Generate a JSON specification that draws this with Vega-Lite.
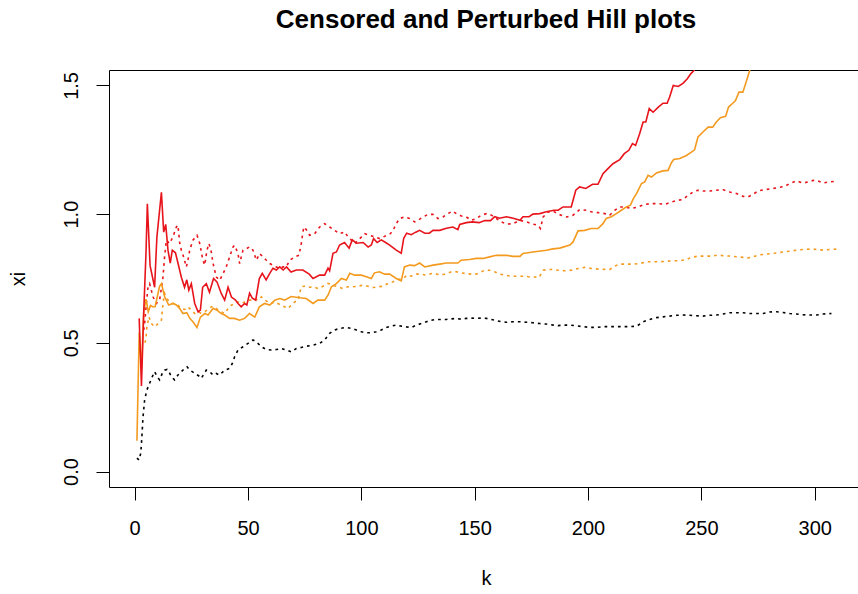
{
"$schema": "https://vega.github.io/schema/vega-lite/v6.json",
"width": 749, "height": 417,
"autosize": {"type": "none"},
"padding": {"left": 109, "top": 70, "right": 0, "bottom": 107},
"background": "white",
"title": {"text": "Censored and Perturbed Hill plots", "font": "Liberation Sans", "fontSize": 26, "fontWeight": "bold", "color": "black", "anchor": "middle", "offset": 37, "dx": 2.5, "frame": "group"},
"config": {
  "view": {"stroke": "black", "strokeWidth": 1},
  "axis": {"domain": false, "grid": false, "ticks": true, "tickSize": 13, "tickColor": "black", "tickWidth": 1, "labelFont": "Liberation Sans", "labelFontSize": 20, "labelColor": "black", "labelFlush": false, "labelOverlap": false, "titleFont": "Liberation Sans", "titleFontSize": 20, "titleFontWeight": "normal", "titleColor": "black"}
},
"datasets": {
"a": [{"k":2,"xi":0.595},{"k":3,"xi":0.332},{"k":4,"xi":0.62},{"k":5,"xi":0.85},{"k":5.6,"xi":1.04},{"k":6.8,"xi":0.8},{"k":8.8,"xi":0.716},{"k":9.8,"xi":0.91},{"k":11.8,"xi":1.085},{"k":12.8,"xi":0.93},{"k":13.7,"xi":0.96},{"k":14.7,"xi":0.86},{"k":15.7,"xi":0.81},{"k":16.6,"xi":0.86},{"k":18,"xi":0.85},{"k":19.1,"xi":0.81},{"k":20.6,"xi":0.755},{"k":22,"xi":0.716},{"k":23,"xi":0.745},{"k":23.9,"xi":0.705},{"k":25,"xi":0.73},{"k":26.5,"xi":0.653},{"k":28,"xi":0.62},{"k":29,"xi":0.627},{"k":30,"xi":0.716},{"k":31.6,"xi":0.73},{"k":33,"xi":0.697},{"k":34.8,"xi":0.75},{"k":36.3,"xi":0.737},{"k":38.2,"xi":0.692},{"k":39.7,"xi":0.666},{"k":41.2,"xi":0.716},{"k":42.7,"xi":0.678},{"k":44.5,"xi":0.666},{"k":45.6,"xi":0.653},{"k":47,"xi":0.64},{"k":48.5,"xi":0.653},{"k":49.5,"xi":0.647},{"k":50.7,"xi":0.693},{"k":51.9,"xi":0.674},{"k":53.4,"xi":0.666},{"k":55,"xi":0.75},{"k":56.3,"xi":0.77},{"k":58,"xi":0.745},{"k":59.6,"xi":0.77},{"k":61,"xi":0.79},{"k":62.5,"xi":0.783},{"k":64,"xi":0.795},{"k":65.5,"xi":0.783},{"k":67,"xi":0.795},{"k":69,"xi":0.775},{"k":71.3,"xi":0.783},{"k":74.2,"xi":0.783},{"k":77,"xi":0.767},{"k":78.7,"xi":0.75},{"k":81.6,"xi":0.763},{"k":83.8,"xi":0.763},{"k":85.3,"xi":0.79},{"k":86,"xi":0.78},{"k":87.5,"xi":0.848},{"k":89,"xi":0.853},{"k":90.4,"xi":0.88},{"k":92.6,"xi":0.89},{"k":94.6,"xi":0.868},{"k":96,"xi":0.9},{"k":97.8,"xi":0.887},{"k":100.8,"xi":0.89},{"k":103,"xi":0.872},{"k":104.4,"xi":0.88},{"k":105.4,"xi":0.905},{"k":107,"xi":0.89},{"k":108.8,"xi":0.9},{"k":110.7,"xi":0.89},{"k":112.5,"xi":0.88},{"k":115.4,"xi":0.86},{"k":117.6,"xi":0.848},{"k":118.7,"xi":0.906},{"k":120,"xi":0.926},{"k":122,"xi":0.92},{"k":124,"xi":0.93},{"k":125.7,"xi":0.937},{"k":128,"xi":0.926},{"k":130,"xi":0.926},{"k":131.6,"xi":0.937},{"k":134.6,"xi":0.937},{"k":137.5,"xi":0.945},{"k":140.4,"xi":0.95},{"k":142.6,"xi":0.94},{"k":143.4,"xi":0.96},{"k":146.3,"xi":0.967},{"k":149,"xi":0.97},{"k":152,"xi":0.967},{"k":154.4,"xi":0.975},{"k":157,"xi":0.975},{"k":158.8,"xi":0.99},{"k":161,"xi":0.984},{"k":164,"xi":0.99},{"k":167,"xi":0.984},{"k":170,"xi":0.976},{"k":171.3,"xi":0.99},{"k":174,"xi":0.99},{"k":175.7,"xi":1.0},{"k":178.7,"xi":1.002},{"k":181.6,"xi":1.009},{"k":185,"xi":1.015},{"k":186.8,"xi":1.015},{"k":189,"xi":1.028},{"k":192.6,"xi":1.028},{"k":194.6,"xi":1.093},{"k":196.3,"xi":1.106},{"k":199,"xi":1.1},{"k":202,"xi":1.116},{"k":204.4,"xi":1.116},{"k":206.6,"xi":1.157},{"k":208.8,"xi":1.177},{"k":211,"xi":1.196},{"k":214,"xi":1.212},{"k":216,"xi":1.235},{"k":218,"xi":1.248},{"k":219.6,"xi":1.274},{"k":221,"xi":1.267},{"k":222.8,"xi":1.313},{"k":224.3,"xi":1.358},{"k":225.5,"xi":1.358},{"k":227,"xi":1.41},{"k":228.7,"xi":1.396},{"k":231,"xi":1.416},{"k":233.1,"xi":1.431},{"k":234.9,"xi":1.431},{"k":236,"xi":1.455},{"k":237.6,"xi":1.5},{"k":239.8,"xi":1.496},{"k":242,"xi":1.509},{"k":243.8,"xi":1.526},{"k":245.3,"xi":1.545},{"k":246.7,"xi":1.558},{"k":248,"xi":1.575},{"k":250,"xi":1.6},{"k":260,"xi":1.75},{"k":280,"xi":2.1},{"k":309,"xi":2.8}],
"b": [{"k":1,"xi":0.12},{"k":2,"xi":0.54},{"k":3,"xi":0.4},{"k":4,"xi":0.62},{"k":5,"xi":0.67},{"k":6,"xi":0.62},{"k":7,"xi":0.645},{"k":8,"xi":0.64},{"k":9,"xi":0.64},{"k":10,"xi":0.68},{"k":11,"xi":0.72},{"k":11.8,"xi":0.73},{"k":13.2,"xi":0.68},{"k":15,"xi":0.647},{"k":17,"xi":0.653},{"k":18.4,"xi":0.647},{"k":19.8,"xi":0.634},{"k":21.3,"xi":0.614},{"k":23,"xi":0.617},{"k":24.3,"xi":0.595},{"k":25.7,"xi":0.582},{"k":27.5,"xi":0.56},{"k":29,"xi":0.6},{"k":31,"xi":0.614},{"k":32.4,"xi":0.608},{"k":34.6,"xi":0.634},{"k":36.3,"xi":0.627},{"k":38.2,"xi":0.614},{"k":39.7,"xi":0.608},{"k":41.9,"xi":0.595},{"k":44,"xi":0.595},{"k":46.3,"xi":0.588},{"k":48.5,"xi":0.595},{"k":50.7,"xi":0.614},{"k":53,"xi":0.6},{"k":55,"xi":0.64},{"k":57.3,"xi":0.653},{"k":59.6,"xi":0.647},{"k":61.8,"xi":0.666},{"k":64,"xi":0.672},{"k":66.2,"xi":0.666},{"k":69,"xi":0.68},{"k":72.8,"xi":0.675},{"k":75.7,"xi":0.672},{"k":78.7,"xi":0.653},{"k":80.8,"xi":0.666},{"k":83.8,"xi":0.666},{"k":85.3,"xi":0.685},{"k":86.8,"xi":0.718},{"k":89,"xi":0.73},{"k":91.2,"xi":0.75},{"k":93.4,"xi":0.744},{"k":94.9,"xi":0.77},{"k":97,"xi":0.763},{"k":100,"xi":0.763},{"k":102.2,"xi":0.757},{"k":104.4,"xi":0.75},{"k":105.8,"xi":0.772},{"k":108,"xi":0.776},{"k":110.3,"xi":0.767},{"k":112.5,"xi":0.767},{"k":115.4,"xi":0.75},{"k":117.6,"xi":0.741},{"k":119,"xi":0.795},{"k":121.3,"xi":0.802},{"k":123.5,"xi":0.8},{"k":125.7,"xi":0.81},{"k":128,"xi":0.795},{"k":131.6,"xi":0.802},{"k":134.6,"xi":0.806},{"k":137.5,"xi":0.81},{"k":140.4,"xi":0.81},{"k":142.6,"xi":0.81},{"k":144,"xi":0.821},{"k":147.8,"xi":0.824},{"k":150.7,"xi":0.828},{"k":153.7,"xi":0.828},{"k":156.6,"xi":0.834},{"k":159.5,"xi":0.84},{"k":164,"xi":0.84},{"k":167,"xi":0.836},{"k":170,"xi":0.836},{"k":171.3,"xi":0.847},{"k":175.7,"xi":0.853},{"k":181.6,"xi":0.86},{"k":184.5,"xi":0.865},{"k":187.5,"xi":0.868},{"k":192,"xi":0.88},{"k":193.4,"xi":0.892},{"k":195.6,"xi":0.935},{"k":198.5,"xi":0.937},{"k":201.4,"xi":0.944},{"k":204.4,"xi":0.944},{"k":206.6,"xi":0.963},{"k":208,"xi":0.983},{"k":210.3,"xi":0.99},{"k":212.5,"xi":1.002},{"k":214.7,"xi":1.015},{"k":216.9,"xi":1.028},{"k":218.7,"xi":1.035},{"k":220,"xi":1.06},{"k":221.4,"xi":1.08},{"k":223.6,"xi":1.119},{"k":225,"xi":1.125},{"k":226.5,"xi":1.151},{"k":228,"xi":1.144},{"k":230.2,"xi":1.16},{"k":233,"xi":1.168},{"k":235.3,"xi":1.17},{"k":236.8,"xi":1.2},{"k":237.8,"xi":1.212},{"k":240.5,"xi":1.216},{"k":243.4,"xi":1.228},{"k":245.6,"xi":1.241},{"k":247,"xi":1.25},{"k":248.5,"xi":1.3},{"k":250.7,"xi":1.319},{"k":253,"xi":1.338},{"k":255,"xi":1.338},{"k":256.6,"xi":1.358},{"k":258.4,"xi":1.375},{"k":260.7,"xi":1.38},{"k":262,"xi":1.416},{"k":263.6,"xi":1.429},{"k":265,"xi":1.44},{"k":266.6,"xi":1.474},{"k":268.3,"xi":1.474},{"k":270,"xi":1.52},{"k":271.3,"xi":1.558},{"k":273,"xi":1.6},{"k":285,"xi":1.9},{"k":309,"xi":2.5}],
"c": [{"k":4,"xi":0.55},{"k":4.4,"xi":0.575},{"k":5.15,"xi":0.653},{"k":5.9,"xi":0.718},{"k":6.6,"xi":0.73},{"k":8.1,"xi":0.679},{"k":9.6,"xi":0.653},{"k":11,"xi":0.666},{"k":12.5,"xi":0.756},{"k":13.2,"xi":0.834},{"k":14,"xi":0.899},{"k":15.4,"xi":0.886},{"k":16.9,"xi":0.912},{"k":18.4,"xi":0.95},{"k":19.1,"xi":0.957},{"k":19.9,"xi":0.886},{"k":20.6,"xi":0.86},{"k":21.6,"xi":0.834},{"k":22.8,"xi":0.795},{"k":23.5,"xi":0.821},{"k":24.3,"xi":0.86},{"k":25.7,"xi":0.899},{"k":27.5,"xi":0.918},{"k":28.7,"xi":0.886},{"k":30.1,"xi":0.821},{"k":30.9,"xi":0.802},{"k":31.9,"xi":0.86},{"k":32.8,"xi":0.886},{"k":33.8,"xi":0.853},{"k":34.6,"xi":0.808},{"k":35.3,"xi":0.782},{"k":36,"xi":0.756},{"k":37.5,"xi":0.743},{"k":39,"xi":0.769},{"k":40.4,"xi":0.795},{"k":41.9,"xi":0.834},{"k":43.4,"xi":0.873},{"k":44.1,"xi":0.879},{"k":45.6,"xi":0.847},{"k":46.3,"xi":0.808},{"k":47.8,"xi":0.86},{"k":49.3,"xi":0.866},{"k":50.7,"xi":0.873},{"k":52.2,"xi":0.86},{"k":53.7,"xi":0.821},{"k":55.1,"xi":0.847},{"k":56.6,"xi":0.834},{"k":58.1,"xi":0.821},{"k":59.6,"xi":0.808},{"k":61,"xi":0.802},{"k":62.5,"xi":0.795},{"k":64,"xi":0.789},{"k":65.4,"xi":0.795},{"k":66.9,"xi":0.795},{"k":68.4,"xi":0.821},{"k":70.6,"xi":0.834},{"k":72.5,"xi":0.84},{"k":73.5,"xi":0.886},{"k":74.6,"xi":0.95},{"k":75.7,"xi":0.94},{"k":77.2,"xi":0.918},{"k":79.4,"xi":0.924},{"k":81.6,"xi":0.95},{"k":83.8,"xi":0.963},{"k":86,"xi":0.95},{"k":88.2,"xi":0.937},{"k":90.4,"xi":0.924},{"k":92.7,"xi":0.931},{"k":94.1,"xi":0.911},{"k":95.6,"xi":0.899},{"k":97.1,"xi":0.886},{"k":99.3,"xi":0.905},{"k":101.5,"xi":0.924},{"k":103.7,"xi":0.918},{"k":105.9,"xi":0.911},{"k":108.1,"xi":0.905},{"k":109.6,"xi":0.911},{"k":111.3,"xi":0.918},{"k":112.8,"xi":0.924},{"k":114,"xi":0.937},{"k":115.4,"xi":0.963},{"k":116.9,"xi":0.983},{"k":119.1,"xi":0.989},{"k":121.3,"xi":0.983},{"k":123.5,"xi":0.97},{"k":125,"xi":0.976},{"k":127.2,"xi":0.989},{"k":129.4,"xi":0.999},{"k":131.6,"xi":0.999},{"k":133.8,"xi":0.983},{"k":136,"xi":0.989},{"k":138.2,"xi":1.002},{"k":140.2,"xi":1.012},{"k":141.9,"xi":1.002},{"k":144.1,"xi":0.993},{"k":146.3,"xi":0.989},{"k":148.5,"xi":0.976},{"k":150.7,"xi":0.983},{"k":152.9,"xi":0.996},{"k":155.2,"xi":1.002},{"k":157.4,"xi":0.996},{"k":159.6,"xi":0.983},{"k":161.8,"xi":0.97},{"k":164,"xi":0.961},{"k":166.9,"xi":0.963},{"k":169.9,"xi":0.976},{"k":172.8,"xi":0.97},{"k":175.7,"xi":0.961},{"k":177.9,"xi":0.957},{"k":179,"xi":0.944},{"k":180.2,"xi":0.989},{"k":182.4,"xi":1.008},{"k":184.6,"xi":1.012},{"k":186.8,"xi":1.0},{"k":190.5,"xi":0.989},{"k":193.4,"xi":0.996},{"k":196.3,"xi":1.018},{"k":199.3,"xi":1.015},{"k":201.5,"xi":1.009},{"k":204.4,"xi":1.006},{"k":207.4,"xi":1.002},{"k":209.6,"xi":0.996},{"k":211.8,"xi":1.015},{"k":214,"xi":1.028},{"k":216.2,"xi":1.028},{"k":219.1,"xi":1.022},{"k":222.1,"xi":1.028},{"k":225,"xi":1.038},{"k":228,"xi":1.041},{"k":230.9,"xi":1.041},{"k":233.8,"xi":1.038},{"k":236.8,"xi":1.047},{"k":239.7,"xi":1.054},{"k":241.9,"xi":1.057},{"k":244.1,"xi":1.073},{"k":246.3,"xi":1.086},{"k":248.5,"xi":1.093},{"k":250.7,"xi":1.09},{"k":253.7,"xi":1.09},{"k":256.6,"xi":1.093},{"k":259.6,"xi":1.095},{"k":262.5,"xi":1.086},{"k":265.5,"xi":1.08},{"k":268.4,"xi":1.069},{"k":270.6,"xi":1.067},{"k":272.8,"xi":1.077},{"k":275,"xi":1.09},{"k":278,"xi":1.095},{"k":280.9,"xi":1.099},{"k":283.8,"xi":1.103},{"k":286.8,"xi":1.108},{"k":289,"xi":1.119},{"k":291.9,"xi":1.129},{"k":294.9,"xi":1.121},{"k":297.1,"xi":1.125},{"k":299.3,"xi":1.131},{"k":301.5,"xi":1.129},{"k":303.7,"xi":1.121},{"k":305.9,"xi":1.125},{"k":309.5,"xi":1.128}],
"d": [{"k":4.5,"xi":0.5},{"k":4.9,"xi":0.511},{"k":5.4,"xi":0.562},{"k":6.3,"xi":0.601},{"k":7.4,"xi":0.575},{"k":8.8,"xi":0.562},{"k":10.3,"xi":0.575},{"k":11.8,"xi":0.588},{"k":12.5,"xi":0.653},{"k":13.2,"xi":0.692},{"k":14.7,"xi":0.666},{"k":16.2,"xi":0.653},{"k":17.6,"xi":0.653},{"k":19.1,"xi":0.646},{"k":20.6,"xi":0.633},{"k":22.1,"xi":0.63},{"k":23.5,"xi":0.64},{"k":25,"xi":0.627},{"k":26.5,"xi":0.614},{"k":28,"xi":0.621},{"k":29.4,"xi":0.614},{"k":30.9,"xi":0.621},{"k":32.4,"xi":0.63},{"k":33.8,"xi":0.64},{"k":35.3,"xi":0.64},{"k":36.8,"xi":0.627},{"k":38.2,"xi":0.621},{"k":39.7,"xi":0.614},{"k":41.2,"xi":0.633},{"k":42.6,"xi":0.646},{"k":44.1,"xi":0.653},{"k":45.6,"xi":0.659},{"k":47.1,"xi":0.653},{"k":48.5,"xi":0.659},{"k":50,"xi":0.666},{"k":51.5,"xi":0.666},{"k":53,"xi":0.672},{"k":54.4,"xi":0.666},{"k":55.9,"xi":0.679},{"k":57.4,"xi":0.666},{"k":58.8,"xi":0.659},{"k":60.3,"xi":0.653},{"k":61.8,"xi":0.659},{"k":63.2,"xi":0.653},{"k":64.7,"xi":0.646},{"k":66.2,"xi":0.64},{"k":67.6,"xi":0.633},{"k":69.1,"xi":0.646},{"k":70.6,"xi":0.659},{"k":72.1,"xi":0.666},{"k":73.5,"xi":0.718},{"k":75,"xi":0.72},{"k":76.5,"xi":0.715},{"k":78.7,"xi":0.718},{"k":80.9,"xi":0.711},{"k":83.1,"xi":0.72},{"k":85.3,"xi":0.731},{"k":87.5,"xi":0.724},{"k":89.7,"xi":0.718},{"k":91.9,"xi":0.711},{"k":94.1,"xi":0.718},{"k":96.3,"xi":0.718},{"k":98.5,"xi":0.72},{"k":100.7,"xi":0.724},{"k":102.9,"xi":0.72},{"k":105.2,"xi":0.715},{"k":107.4,"xi":0.718},{"k":109.6,"xi":0.72},{"k":111.8,"xi":0.731},{"k":114,"xi":0.737},{"k":116.2,"xi":0.746},{"k":118.4,"xi":0.75},{"k":120.2,"xi":0.763},{"k":122.1,"xi":0.759},{"k":124.3,"xi":0.767},{"k":126.5,"xi":0.767},{"k":128.7,"xi":0.763},{"k":130.9,"xi":0.769},{"k":133.1,"xi":0.767},{"k":135.3,"xi":0.763},{"k":137.5,"xi":0.769},{"k":139.7,"xi":0.776},{"k":141.9,"xi":0.776},{"k":144.1,"xi":0.772},{"k":146.3,"xi":0.769},{"k":148.5,"xi":0.767},{"k":150.7,"xi":0.767},{"k":152.9,"xi":0.776},{"k":154.4,"xi":0.782},{"k":156.6,"xi":0.782},{"k":158.8,"xi":0.776},{"k":161,"xi":0.767},{"k":163.2,"xi":0.763},{"k":165.4,"xi":0.76},{"k":167.7,"xi":0.759},{"k":169.9,"xi":0.759},{"k":172.1,"xi":0.759},{"k":174.3,"xi":0.756},{"k":176.5,"xi":0.756},{"k":178.4,"xi":0.754},{"k":180.2,"xi":0.782},{"k":182.4,"xi":0.785},{"k":184.6,"xi":0.785},{"k":186.8,"xi":0.782},{"k":189.7,"xi":0.78},{"k":192.7,"xi":0.782},{"k":195.6,"xi":0.789},{"k":198.5,"xi":0.793},{"k":201.5,"xi":0.789},{"k":205.2,"xi":0.786},{"k":209.6,"xi":0.785},{"k":211.8,"xi":0.798},{"k":214,"xi":0.806},{"k":216.9,"xi":0.806},{"k":219.9,"xi":0.806},{"k":222.8,"xi":0.808},{"k":225.7,"xi":0.815},{"k":228.7,"xi":0.815},{"k":231.6,"xi":0.815},{"k":234.6,"xi":0.817},{"k":237.5,"xi":0.819},{"k":240.5,"xi":0.819},{"k":243.4,"xi":0.824},{"k":245.6,"xi":0.832},{"k":248.5,"xi":0.837},{"k":251.5,"xi":0.837},{"k":254.4,"xi":0.837},{"k":257.4,"xi":0.841},{"k":260.3,"xi":0.838},{"k":263.2,"xi":0.837},{"k":266.2,"xi":0.834},{"k":268.4,"xi":0.832},{"k":270.6,"xi":0.83},{"k":272.8,"xi":0.834},{"k":275,"xi":0.841},{"k":278,"xi":0.844},{"k":280.9,"xi":0.847},{"k":283.8,"xi":0.85},{"k":286.8,"xi":0.854},{"k":289,"xi":0.856},{"k":291.9,"xi":0.86},{"k":294.9,"xi":0.863},{"k":297.8,"xi":0.864},{"k":300.7,"xi":0.863},{"k":303.7,"xi":0.86},{"k":306.6,"xi":0.863},{"k":309.6,"xi":0.864}],
"e": [{"k":1,"xi":0.052},{"k":1.9,"xi":0.045},{"k":2.7,"xi":0.071},{"k":3.1,"xi":0.123},{"k":3.7,"xi":0.213},{"k":4.4,"xi":0.278},{"k":5.4,"xi":0.317},{"k":6.6,"xi":0.343},{"k":7.8,"xi":0.369},{"k":8.8,"xi":0.388},{"k":9.9,"xi":0.369},{"k":11,"xi":0.356},{"k":12.2,"xi":0.382},{"k":13.2,"xi":0.394},{"k":14.3,"xi":0.397},{"k":15.1,"xi":0.388},{"k":16.2,"xi":0.369},{"k":17.6,"xi":0.356},{"k":19.1,"xi":0.375},{"k":20.6,"xi":0.388},{"k":22.1,"xi":0.401},{"k":23.1,"xi":0.407},{"k":24.3,"xi":0.394},{"k":26.5,"xi":0.382},{"k":28.7,"xi":0.369},{"k":29.4,"xi":0.362},{"k":31.6,"xi":0.394},{"k":33.1,"xi":0.388},{"k":34.6,"xi":0.375},{"k":36,"xi":0.381},{"k":37.5,"xi":0.375},{"k":39.7,"xi":0.394},{"k":41.9,"xi":0.401},{"k":43.1,"xi":0.42},{"k":44.1,"xi":0.446},{"k":45.6,"xi":0.472},{"k":47.8,"xi":0.485},{"k":50,"xi":0.498},{"k":52.2,"xi":0.511},{"k":53.7,"xi":0.504},{"k":55.9,"xi":0.485},{"k":58.1,"xi":0.474},{"k":60.3,"xi":0.472},{"k":62.5,"xi":0.474},{"k":64.7,"xi":0.478},{"k":66.9,"xi":0.472},{"k":69.1,"xi":0.465},{"k":71.3,"xi":0.478},{"k":73.5,"xi":0.482},{"k":75.7,"xi":0.487},{"k":78.7,"xi":0.491},{"k":81.6,"xi":0.498},{"k":83.8,"xi":0.511},{"k":86,"xi":0.537},{"k":88.2,"xi":0.55},{"k":90.4,"xi":0.556},{"k":93.4,"xi":0.56},{"k":95.6,"xi":0.556},{"k":97.8,"xi":0.55},{"k":100,"xi":0.543},{"k":102.2,"xi":0.539},{"k":104.4,"xi":0.539},{"k":106.6,"xi":0.543},{"k":108.8,"xi":0.55},{"k":111,"xi":0.56},{"k":113.2,"xi":0.565},{"k":115.4,"xi":0.569},{"k":117.7,"xi":0.565},{"k":119.9,"xi":0.562},{"k":122.1,"xi":0.56},{"k":124.3,"xi":0.569},{"k":126.5,"xi":0.575},{"k":128.7,"xi":0.582},{"k":130.9,"xi":0.588},{"k":133.1,"xi":0.591},{"k":135.3,"xi":0.591},{"k":137.5,"xi":0.591},{"k":139.7,"xi":0.593},{"k":141.9,"xi":0.595},{"k":144.1,"xi":0.592},{"k":146.3,"xi":0.595},{"k":148.5,"xi":0.596},{"k":150.7,"xi":0.595},{"k":152.9,"xi":0.596},{"k":155.2,"xi":0.595},{"k":157.4,"xi":0.591},{"k":159.6,"xi":0.586},{"k":161.8,"xi":0.582},{"k":164,"xi":0.58},{"k":166.9,"xi":0.582},{"k":169.9,"xi":0.582},{"k":172.8,"xi":0.58},{"k":175.7,"xi":0.578},{"k":178.7,"xi":0.575},{"k":181.6,"xi":0.573},{"k":184.6,"xi":0.569},{"k":186.8,"xi":0.567},{"k":189,"xi":0.569},{"k":191.9,"xi":0.569},{"k":194.9,"xi":0.566},{"k":197.8,"xi":0.563},{"k":200.7,"xi":0.56},{"k":203.7,"xi":0.56},{"k":206.6,"xi":0.563},{"k":209.6,"xi":0.563},{"k":212.5,"xi":0.563},{"k":215.5,"xi":0.563},{"k":218.4,"xi":0.563},{"k":221.6,"xi":0.565},{"k":224.3,"xi":0.582},{"k":227.2,"xi":0.591},{"k":230.2,"xi":0.598},{"k":233.1,"xi":0.601},{"k":236,"xi":0.604},{"k":239,"xi":0.607},{"k":241.9,"xi":0.608},{"k":244.9,"xi":0.607},{"k":247.8,"xi":0.605},{"k":250.7,"xi":0.604},{"k":253.7,"xi":0.607},{"k":256.6,"xi":0.608},{"k":259.6,"xi":0.612},{"k":262.5,"xi":0.617},{"k":265.5,"xi":0.617},{"k":268.4,"xi":0.617},{"k":271.3,"xi":0.614},{"k":274.3,"xi":0.614},{"k":277.2,"xi":0.614},{"k":280.2,"xi":0.62},{"k":283.1,"xi":0.621},{"k":286,"xi":0.618},{"k":289,"xi":0.614},{"k":291.9,"xi":0.612},{"k":294.9,"xi":0.609},{"k":297.8,"xi":0.608},{"k":300.7,"xi":0.608},{"k":303.7,"xi":0.612},{"k":307.4,"xi":0.614}]
},
"encoding": {
  "x": {"field": "k", "type": "quantitative", "scale": {"domain": [-11.32, 319.1], "nice": false, "zero": false}, "axis": {"values": [0, 50, 100, 150, 200, 250, 300], "title": "k", "labelPadding": 18, "titleX": 377, "titleY": 91, "titleBaseline": "middle", "titleAlign": "center"}},
  "y": {"field": "xi", "type": "quantitative", "scale": {"domain": [-0.06, 1.56], "nice": false, "zero": false}, "axis": {"values": [0, 0.5, 1, 1.5], "format": ".1f", "title": "xi", "labelAngle": -90, "labelAlign": "center", "labelBaseline": "bottom", "labelPadding": 15, "titleX": -91, "titleY": 208.5, "titleBaseline": "middle", "titleAlign": "center", "titleAngle": -90}}
},
"layer": [
  {"data": {"name": "e"}, "mark": {"type": "line", "clip": true, "strokeWidth": 1.6, "color": "#000000", "strokeDash": [2.7, 4]}},
  {"data": {"name": "d"}, "mark": {"type": "line", "clip": true, "strokeWidth": 1.6, "color": "#F39A1F", "strokeDash": [2.7, 4]}},
  {"data": {"name": "c"}, "mark": {"type": "line", "clip": true, "strokeWidth": 1.6, "color": "#E8141C", "strokeDash": [2.7, 4]}},
  {"data": {"name": "b"}, "mark": {"type": "line", "clip": true, "strokeWidth": 1.6, "color": "#F39A1F"}},
  {"data": {"name": "a"}, "mark": {"type": "line", "clip": true, "strokeWidth": 1.6, "color": "#E8141C"}}
]
}
